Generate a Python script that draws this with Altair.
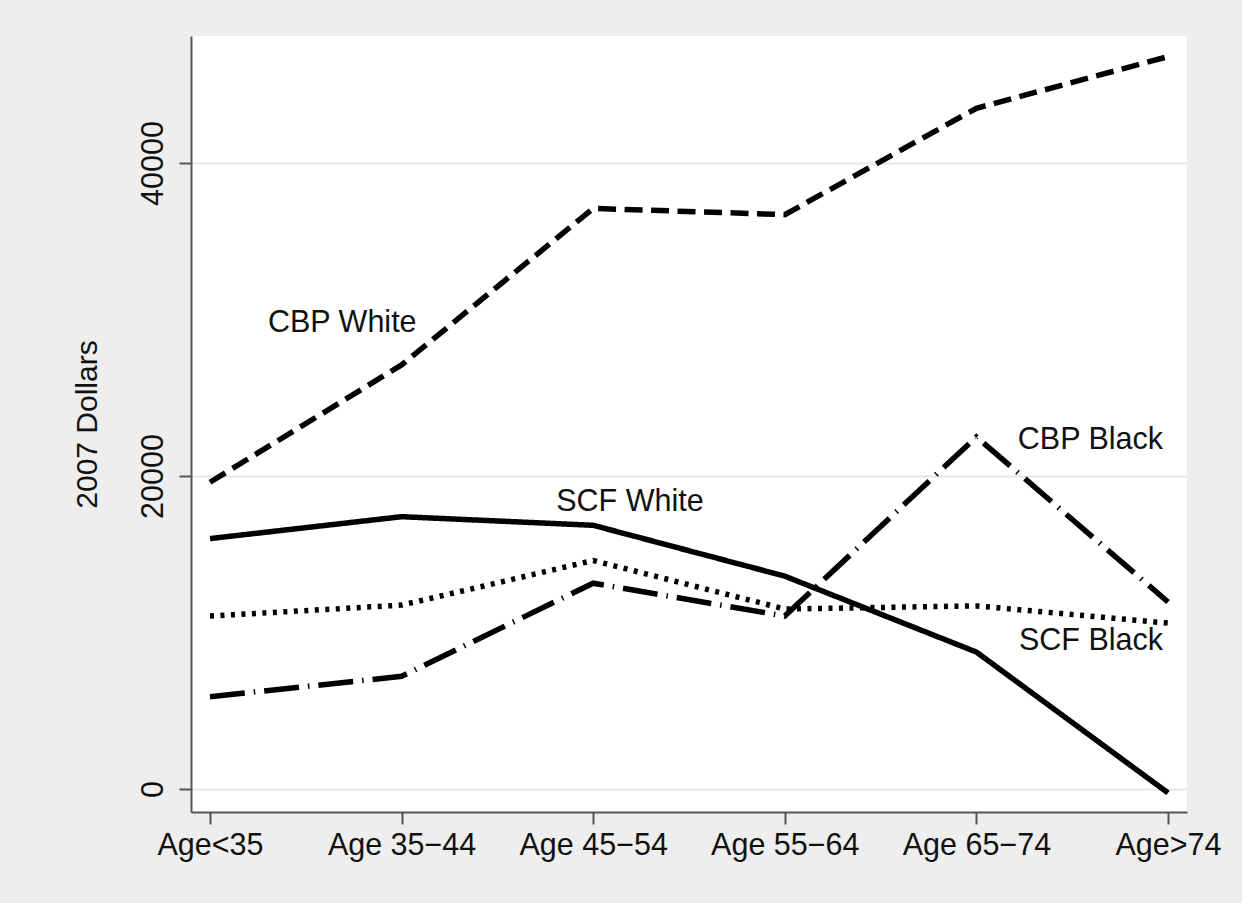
import altair as alt
import pandas as pd

ages = ["Age<35", "Age 35−44", "Age 45−54", "Age 55−64", "Age 65−74", "Age>74"]
cbp_white = [19600, 27100, 37100, 36700, 43500, 46800]
scf_white = [16000, 17400, 16850, 13600, 8750, -250]
scf_black = [11050, 11750, 14600, 11500, 11700, 10600]
cbp_black = [5900, 7200, 13150, 11050, 22500, 11950]

series_names = ["CBP White", "SCF White", "SCF Black", "CBP Black"]
series_values = [cbp_white, scf_white, scf_black, cbp_black]

label_text = ["CBP White", "SCF White", "CBP Black", "SCF Black"]
label_age = ["Age<35", "Age 45−54", "Age>74", "Age>74"]
label_value = [29780, 18340, 22300, 9460]

rows = []
for name, vals in zip(series_names, series_values):
    for a, v in zip(ages, vals):
        rows.append({"age": a, "value": v, "series": name})
df = pd.DataFrame(rows)

lab = pd.DataFrame({"text": label_text, "age": label_age, "value": label_value})

FONT = "Liberation Sans"
xs = alt.X("age:N", sort=ages, scale=alt.Scale(type="point", padding=0.099),
           axis=alt.Axis(title=None, labelAngle=0, labelFontSize=30.5, labelFont=FONT,
                         labelColor="#111", labelPadding=6, tickSize=12, tickWidth=2,
                         tickColor="#555", domainColor="#555", domainWidth=2, grid=False))
ys = alt.Y("value:Q", scale=alt.Scale(domain=[-1470, 48115], nice=False, zero=False),
           axis=alt.Axis(title="2007 Dollars", values=[0, 20000, 40000], labelAngle=270,
                         labelAlign="center", labelBaseline="bottom", labelFontSize=30.5,
                         labelFont=FONT, labelColor="#111", labelPadding=11,
                         titleFont=FONT, titleFontSize=30, titleFontWeight="normal",
                         titleColor="#111", titlePadding=36, tickSize=12, tickWidth=2,
                         tickColor="#555", domainColor="#555", domainWidth=2,
                         grid=True, gridColor="#E6E6E6", gridWidth=2, format="d"))

lines = alt.Chart(df).mark_line(strokeWidth=5.5, color="black", strokeCap="butt").encode(
    x=xs, y=ys,
    strokeDash=alt.StrokeDash("series:N", legend=None,
        scale=alt.Scale(domain=series_names,
                        range=[[18, 8.5], [1, 0], [4, 6.5], [35, 9, 1.5, 9]])),
    detail="series:N",
)

left_lab = alt.Chart(lab[lab["text"].isin(["CBP White"])]).mark_text(
    align="left", baseline="middle", dx=58, fontSize=30.5, font=FONT, color="#111"
).encode(x=alt.X("age:N", sort=ages), y="value:Q", text="text:N")
mid_lab = alt.Chart(lab[lab["text"].isin(["SCF White"])]).mark_text(
    align="left", baseline="middle", dx=-37, fontSize=30.5, font=FONT, color="#111"
).encode(x=alt.X("age:N", sort=ages), y="value:Q", text="text:N")
right_lab = alt.Chart(lab[lab["text"].isin(["CBP Black", "SCF Black"])]).mark_text(
    align="right", baseline="middle", dx=-5, fontSize=30.5, font=FONT, color="#111"
).encode(x=alt.X("age:N", sort=ages), y="value:Q", text="text:N")

chart = alt.layer(lines, left_lab, mid_lab, right_lab).properties(
    width=996, height=776,
    autosize=alt.AutoSizeParams(type="none"),
    padding={"left": 191, "top": 36, "right": 55, "bottom": 91},
    background="#EEEEEE",
).configure_view(fill="white", stroke=None)

chart.save("out.html", embed_options={"renderer": "svg", "actions": False})
